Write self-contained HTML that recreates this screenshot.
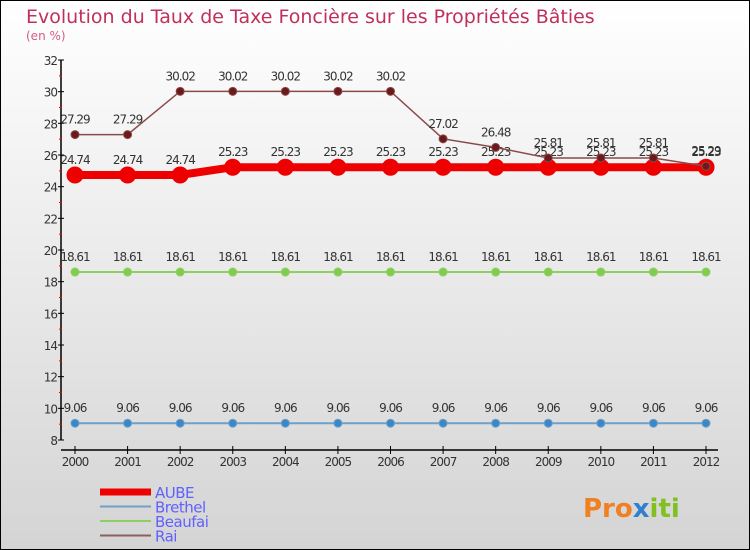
<!DOCTYPE html>
<html><head><meta charset="utf-8"><style>
body{margin:0;background:#fff}
svg{display:block;font-family:"DejaVu Sans","Liberation Sans",sans-serif}
</style></head><body>
<svg id="c" width="750" height="550" viewBox="0 0 750 550" xmlns="http://www.w3.org/2000/svg">
<defs><linearGradient id="bg" x1="0" y1="0" x2="0" y2="1"><stop offset="0" stop-color="#ffffff"/><stop offset="1" stop-color="#d4d4d4"/></linearGradient></defs>
<rect x="0.5" y="0.5" width="749" height="549" fill="url(#bg)" stroke="#000"/>
<text x="26" y="23" font-size="19" fill="#c0305a">Evolution du Taux de Taxe Foncière sur les Propriétés Bâties</text>
<text x="26" y="40" font-size="12" fill="#d06080">(en %)</text>
<g id="axes"></g>
<g id="series"></g>
<g id="legend"></g>
<text x="583" y="517" font-size="26" font-weight="bold" fill="#f08020">Pro<tspan fill="#3080d0">x</tspan><tspan fill="#80c020">iti</tspan></text>
</svg>
<script>
const years=[2000,2001,2002,2003,2004,2005,2006,2007,2008,2009,2010,2011,2012];
const yTicks=[8,10,12,14,16,18,20,22,24,26,28,30,32];
const aube=[24.74,24.74,24.74,25.23,25.23,25.23,25.23,25.23,25.23,25.23,25.23,25.23,25.23];
const brethel=[9.06,9.06,9.06,9.06,9.06,9.06,9.06,9.06,9.06,9.06,9.06,9.06,9.06];
const beaufai=[18.61,18.61,18.61,18.61,18.61,18.61,18.61,18.61,18.61,18.61,18.61,18.61,18.61];
const rai=[27.29,27.29,30.02,30.02,30.02,30.02,30.02,27.02,26.48,25.81,25.81,25.81,25.29];
const NS="http://www.w3.org/2000/svg";
const X=i=>75+i*(706-75)/(years.length-1);
const Y=v=>440-(v-8)*(380/24);
function mk(p,t,a){const e=document.createElementNS(NS,t);for(const k in a)e.setAttribute(k,a[k]);p.appendChild(e);return e;}
const ax=document.getElementById('axes');
let l=mk(ax,'line',{x1:61,y1:60,x2:61,y2:440,stroke:'#000','stroke-width':1.5});


l=mk(ax,'line',{x1:61,y1:450,x2:718,y2:450,stroke:'#000','stroke-width':1.5});


yTicks.forEach((v,i)=>{
  mk(ax,'line',{x1:58,x2:64,y1:Y(v),y2:Y(v),stroke:'#000'});
  if(i<yTicks.length-1) mk(ax,'line',{x1:59,x2:62,y1:Y(v+1),y2:Y(v+1),stroke:'#f00'});
  const t=mk(ax,'text',{x:57,y:Y(v)+5,'text-anchor':'end','font-size':12,fill:'#333','letter-spacing':'-1'});
  t.textContent=v;
  
  
});
years.forEach((y,i)=>{
  mk(ax,'line',{x1:X(i),x2:X(i),y1:446,y2:454,stroke:'#000'});
  const t=mk(ax,'text',{x:X(i),y:466,'text-anchor':'middle','font-size':12,fill:'#333','letter-spacing':'-1'});
  t.textContent=y;
  
  
});
const sg=document.getElementById('series');
function series(name,vals,color,w,r,dot){
  const g=mk(sg,'g',{});
  
  
  mk(g,'polyline',{points:vals.map((v,i)=>X(i)+','+Y(v)).join(' '),fill:'none',stroke:color,'stroke-width':w});
  vals.forEach((v,i)=>{
    const c=mk(g,'circle',{cx:X(i),cy:Y(v),r:r,fill:dot,stroke:color});
    
    
    const t=mk(g,'text',{x:X(i),y:Y(v)-11,'text-anchor':'middle','font-size':12,fill:'#333','letter-spacing':'-1'});
    t.textContent=v.toFixed(2);
    
    
  });
}
series('brethel',brethel,'#6fa0c8',2,4,'#3a88c8');
series('beaufai',beaufai,'#8ed060',2,4,'#80cc50');
series('aube',aube,'#ee0000',8,8,'#ee0000');
series('rai',rai,'#8a4a4a',1.5,4,'#6a1a1a');
const lg=document.getElementById('legend');
const items=[['AUBE','#ee0000',7],['Brethel','#6fa0c8',2],['Beaufai','#8ed060',2],['Rai','#8a6060',2]];
items.forEach((it,i)=>{
  const y=492+i*14.5;
  const g=mk(lg,'g',{});
  
  
  mk(g,'line',{x1:100,x2:151,y1:y,y2:y,stroke:it[1],'stroke-width':it[2]});
  const t=mk(g,'text',{x:155,y:y+6,'font-size':15,fill:'#6060ff','letter-spacing':'-0.5'});
  t.textContent=it[0];
});
</script>
</body></html>
